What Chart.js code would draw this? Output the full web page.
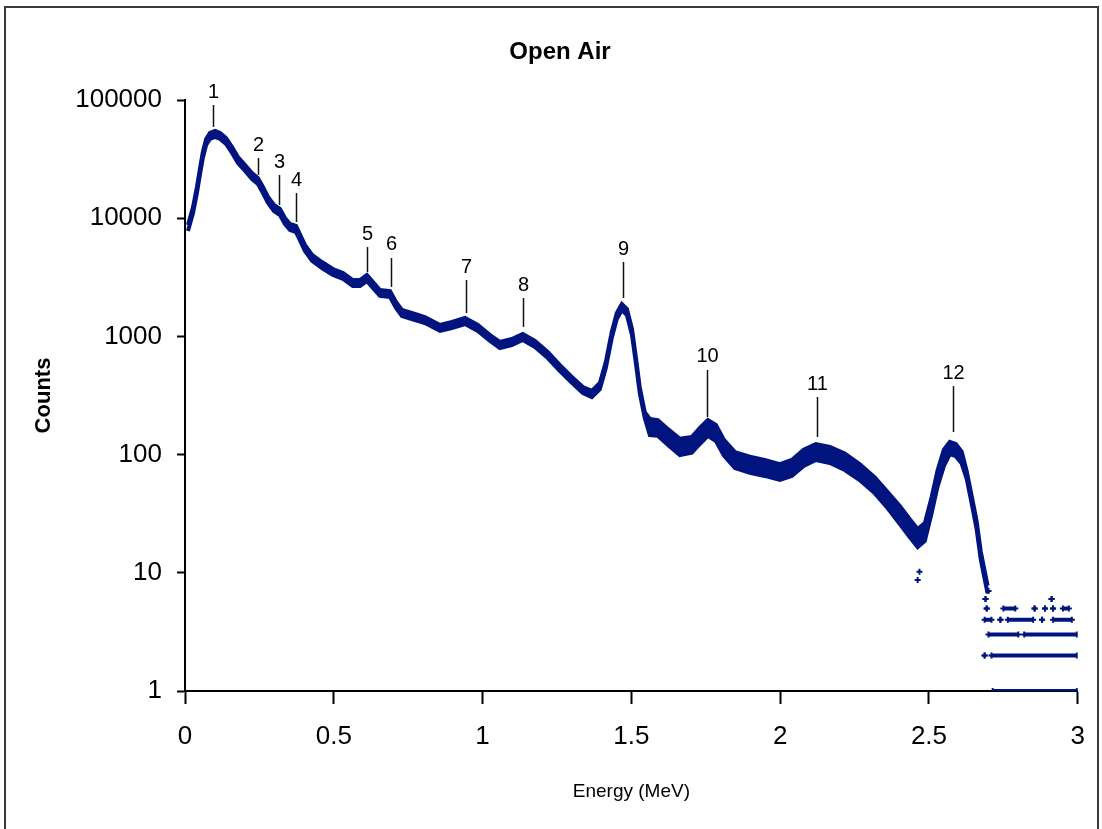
<!DOCTYPE html>
<html>
<head>
<meta charset="utf-8">
<title>Open Air</title>
<script src="https://cdn.jsdelivr.net/npm/chart.js@4.4.1/dist/chart.umd.min.js"></script>
<style>
    html, body { margin: 0; padding: 0; background: #fff; }
    #wrap { width: 1102px; height: 829px; position: relative; }
</style>
</head>
<body>
<div id="wrap"><canvas id="chart1"></canvas></div>
<script>
/******************************************************************************
 * data
 *****************************************************************************/
// energy (MeV) along the spectrum, with the upper and lower edge of the band
const energy = [
    0.010, 0.027, 0.040, 0.050, 0.060, 0.071, 0.084, 0.101, 0.118, 0.138,
    0.158, 0.178, 0.202, 0.225, 0.245, 0.262, 0.279, 0.299, 0.319, 0.336,
    0.353, 0.373, 0.386, 0.403, 0.427, 0.460, 0.497, 0.531, 0.564, 0.588,
    0.611, 0.632, 0.655, 0.689, 0.709, 0.729, 0.762, 0.806, 0.857, 0.897,
    0.941, 0.984, 1.025, 1.058, 1.098, 1.135, 1.176, 1.219, 1.260, 1.300,
    1.337, 1.367, 1.394, 1.414, 1.434, 1.451, 1.468, 1.485, 1.502, 1.515,
    1.528, 1.545, 1.562, 1.589, 1.622, 1.663, 1.703, 1.730, 1.757, 1.784,
    1.811, 1.848, 1.898, 1.948, 1.999, 2.039, 2.079, 2.120, 2.167, 2.217,
    2.267, 2.318, 2.362, 2.402, 2.435, 2.462, 2.486, 2.509, 2.529, 2.550,
    2.570, 2.590, 2.610, 2.627, 2.644, 2.660, 2.674, 2.687, 2.697
];
const countsHigh = [
    8760, 12430, 18360, 26070, 36300, 46780, 52580, 54660, 52580, 47690,
    40030, 32940, 28190, 24120, 21880, 18360, 15120, 12930, 11970, 10040,
    8930, 8590, 7350, 5940, 4890, 4260, 3715, 3440, 3000, 3000,
    3310, 2880, 2470, 2420, 1955, 1673, 1577, 1459, 1249, 1324,
    1431, 1249, 1027, 897, 951, 1047, 914, 738, 572, 454,
    373, 346, 403, 607, 1089, 1577, 1879, 1706, 1155, 669,
    373, 229, 200, 196, 165, 136, 141, 168, 196, 178,
    133, 105, 96, 90, 83, 90, 110, 123, 116, 102,
    83, 64, 48, 36.7, 28.5, 23.5, 26.3, 43.8, 73.6, 110,
    128, 123, 106, 72, 44, 27.5, 15.2, 10.4, 7.8
];
const countsLow = [
    7790, 11060, 16330, 23190, 32300, 41610, 46770, 48630, 46770, 42430,
    35610, 29310, 25070, 21450, 19460, 16330, 13450, 11500, 10650, 8930,
    7940, 7640, 6530, 5280, 4350, 3790, 3305, 3060, 2670, 2670,
    2940, 2565, 2200, 2155, 1739, 1488, 1403, 1298, 1111, 1178,
    1273, 1111, 914, 798, 846, 932, 813, 656, 509, 404,
    332, 307, 358, 540, 968, 1403, 1672, 1517, 1028, 595,
    332, 204, 146, 144, 121, 99, 104, 123, 144, 130,
    98, 77, 70, 66, 61, 66, 80, 90, 85, 74,
    61, 47, 35, 25.9, 20.1, 16.5, 18.6, 32.1, 53.9, 80,
    101, 97, 84, 62, 38, 23.5, 13.0, 8.9, 6.7
];

// sparse channels above 2.7 MeV: count level and the energy runs it covers
const tailLevels = [1, 2, 3, 4, 5, 6];
const tailRuns = [
    [[2.714, 2.997]],
    [[2.687, 2.687], [2.710, 2.997]],
    [[2.700, 2.800], [2.820, 2.997]],
    [[2.687, 2.710], [2.740, 2.740], [2.765, 2.850], [2.880, 2.880], [2.917, 2.980]],
    [[2.694, 2.694], [2.750, 2.790], [2.855, 2.855], [2.890, 2.890], [2.917, 2.917], [2.950, 2.970]],
    [[2.690, 2.690], [2.912, 2.912]]
];

// stray points below the band
const strayEnergy = [2.462, 2.468, 2.700];
const strayCounts = [8.7, 10.2, 7];

// numbered peaks
const peakLabels = ['1', '2', '3', '4', '5', '6', '7', '8', '9', '10', '11', '12'];
const peakEnergy = [0.094, 0.245, 0.316, 0.373, 0.611, 0.692, 0.944, 1.135, 1.471, 1.753, 2.123, 2.580];
const peakTop = [90700, 32300, 23200, 16330, 5700, 4610, 3000, 2113, 4260, 520, 307, 380];
const peakBottom = [59200, 23200, 12940, 9290, 3505, 2620, 1578, 1203, 2113, 208, 141, 155];

const xTicks = [0, 0.5, 1, 1.5, 2, 2.5, 3];
const yTicks = [1, 10, 100, 1000, 10000, 100000];

/******************************************************************************
 * constants
 *****************************************************************************/
const ctx = document.getElementById('chart1');
const NAVY = '#00147f';
const FONT = '"Liberation Sans", Arial, sans-serif';

function toPoints(xs, ys) {
    return xs.map((x, i) => ({ x: x, y: ys[i] }));
}

function runPoints(runs, level) {
    const pts = [];
    runs.forEach(r => {
        pts.push({ x: r[0], y: level }, { x: r[1], y: level }, { x: r[1], y: null });
    });
    return pts;
}

// frame, title and the numbered peak markers
const decorations = {
    id: 'decorations',
    afterDraw(chart) {
        const c = chart.ctx;
        const x = chart.scales.x;
        const y = chart.scales.y;
        c.save();

        c.strokeStyle = '#3a3a3a';
        c.lineWidth = 2;
        c.strokeRect(5, 7, 1093, 840);

        c.fillStyle = '#000';
        c.font = 'bold 24px ' + FONT;
        c.textAlign = 'center';
        c.textBaseline = 'middle';
        c.fillText('Open Air', 560, 52);

        c.strokeStyle = '#111';
        c.lineWidth = 1.5;
        c.font = '20px ' + FONT;
        c.textBaseline = 'bottom';
        peakEnergy.forEach((e, i) => {
            const px = Math.round(x.getPixelForValue(e)) + 0.5;
            const top = y.getPixelForValue(peakTop[i]);
            const bottom = y.getPixelForValue(peakBottom[i]);
            c.beginPath();
            c.moveTo(px, top);
            c.lineTo(px, bottom);
            c.stroke();
            c.fillText(peakLabels[i], px, top - 3);
        });
        c.restore();
    }
};

const datasets = [
    {
        data: toPoints(energy, countsHigh),
        borderColor: NAVY,
        borderWidth: 4,
        pointRadius: 0,
        fill: false
    },
    {
        data: toPoints(energy, countsLow),
        borderColor: NAVY,
        backgroundColor: NAVY,
        borderWidth: 4,
        pointRadius: 0,
        fill: '-1'
    },
    {
        data: toPoints(strayEnergy, strayCounts),
        showLine: false,
        pointStyle: 'cross',
        pointRadius: 3,
        borderColor: NAVY,
        borderWidth: 2
    }
];

tailLevels.forEach((level, i) => {
    datasets.push({
        data: runPoints(tailRuns[i], level),
        borderColor: NAVY,
        backgroundColor: NAVY,
        borderWidth: 4,
        borderCapStyle: 'butt',
        pointStyle: 'cross',
        pointRadius: 3,
        pointBorderWidth: 2,
        spanGaps: false
    });
});

new Chart(ctx, {
    type: 'line',
    data: { datasets: datasets },
    plugins: [decorations],
    options: {
        responsive: true,
        maintainAspectRatio: false,
        animation: false,
        elements: { line: { tension: 0 } },
        layout: { padding: { top: 100, right: 24, bottom: 0, left: 0 } },
        plugins: {
            legend: { display: false },
            tooltip: { enabled: false },
            title: { display: false }
        },
        scales: {
            x: {
                type: 'linear',
                min: 0,
                max: 3,
                afterFit: s => { s.height = 138; },
                afterBuildTicks: s => { s.ticks = xTicks.map(v => ({ value: v })); },
                ticks: {
                    color: '#000',
                    padding: 17,
                    font: { family: FONT, size: 26 },
                    callback: v => String(v)
                },
                grid: { drawOnChartArea: false, drawTicks: true, tickLength: 13, tickColor: '#000', tickWidth: 2 },
                border: { display: true, color: '#000', width: 2 },
                title: {
                    display: true,
                    text: 'Energy (MeV)',
                    color: '#000',
                    font: { family: FONT, size: 19 },
                    padding: { top: 0, bottom: 26 }
                }
            },
            y: {
                type: 'logarithmic',
                min: 1,
                max: 100000,
                afterFit: s => { s.width = 185; },
                afterBuildTicks: s => { s.ticks = yTicks.map(v => ({ value: v })); },
                ticks: {
                    color: '#000',
                    padding: 15,
                    font: { family: FONT, size: 26 },
                    callback: v => String(v)
                },
                grid: { drawOnChartArea: false, drawTicks: true, tickLength: 8, tickColor: '#000', tickWidth: 2 },
                border: { display: true, color: '#000', width: 2 },
                title: {
                    display: true,
                    text: 'Counts',
                    color: '#000',
                    font: { family: FONT, size: 22, weight: 'bold' },
                    padding: { top: 31, bottom: 0 }
                }
            }
        }
    }
});
</script>
</body>
</html>
